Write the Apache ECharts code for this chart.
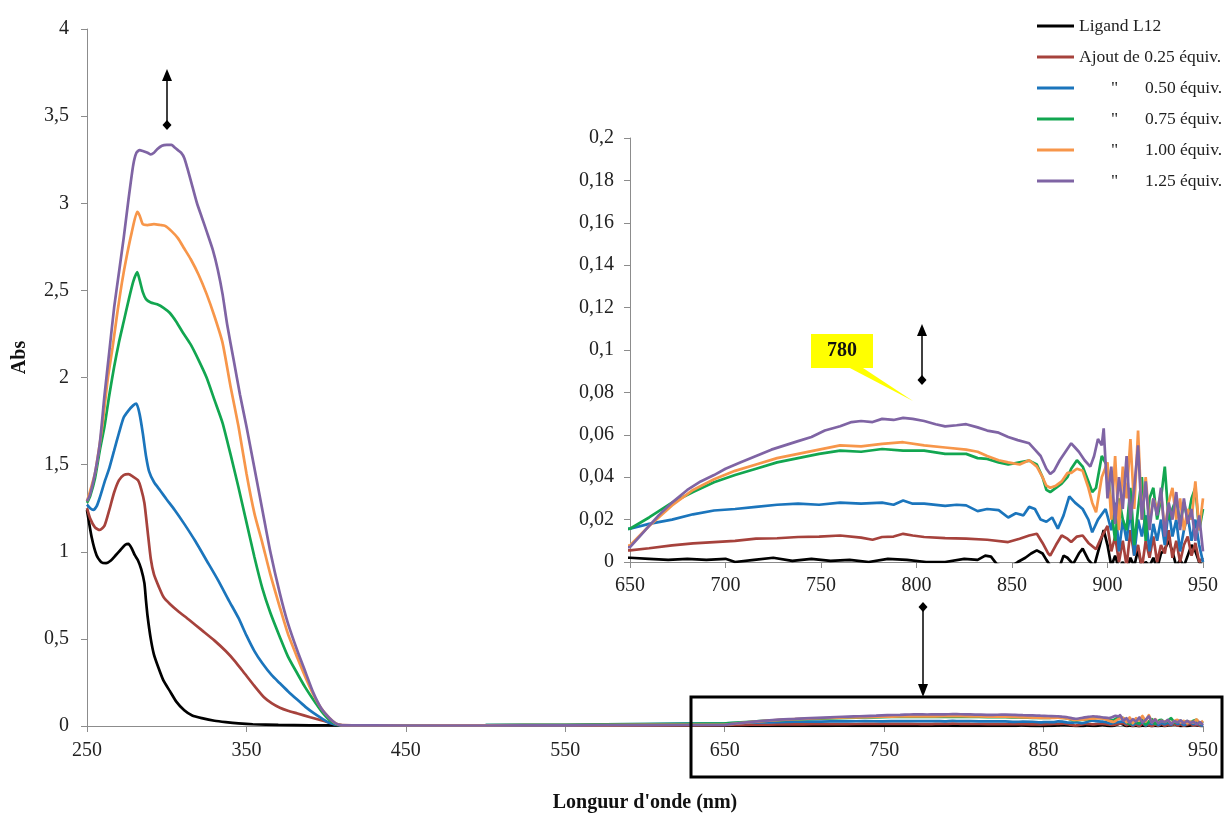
<!DOCTYPE html>
<html>
<head>
<meta charset="utf-8">
<script src="https://cdn.jsdelivr.net/npm/echarts@6/dist/echarts.min.js"></script>
<style>
html,body{margin:0;padding:0;background:#fff;}
#c{width:1225px;height:814px;}
</style>
</head>
<body>
<div id="c"></div>
<script>
// ---------------- DATA ----------------
const seriesNames = ['Ligand L12', 'Ajout de 0.25 équiv.', '0.50 équiv.', '0.75 équiv.', '1.00 équiv.', '1.25 équiv.'];
const seriesColors = ['#000000', '#A6423C', '#1B75BC', '#12A650', '#F7964A', '#7F64A4'];

const mainXTicks = [250, 350, 450, 550, 650, 750, 850, 950];

// [wavelength nm, absorbance]
const ligand = [[250,1.24],[253,1.08],[256,0.98],[259,0.94],[262,0.935],[265,0.95],[268,0.98],[271,1.01],[274,1.04],[276,1.045],[278,1.02],[280,0.98],[282,0.95],[284,0.9],[286,0.82],[287,0.72],[288,0.63],[290,0.5],[292,0.41],[295,0.33],[298,0.26],[302,0.2],[306,0.14],[311,0.09],[316,0.06],[322,0.045],[330,0.03],[337,0.022],[345,0.015],[354,0.01],[370,0.006],[390,0.004],[420,0.003],[500,0.002],[600,0.002],
[650,0.002],[660,0.0015],[670,0.001],[680,0.0015],[690,0.001],[700,0.0015],[705,0.0],[715,0.001],[725,0.002],[735,0.0005],[745,0.0015],[755,0.0005],[765,0.001],[775,0.0],[785,0.0015],[795,0.001],[805,0.0],[815,0.0],[825,0.0015],[832,0.001],[836,0.003],[839,0.0025],[842,-0.001],[848,-0.003],[853,0.0],[857,0.002],[860,0.004],[863,0.0055],[866,0.004],[868,0.001],[871,-0.003],[875,-0.002],[877,0.003],[879,0.002],[882,-0.001],[885,0.004],[887,0.0063],[890,0.001],[893,-0.002],[896,0.008],[898,0.015],
[900,0.008],[902,-0.002],[904,0.003],[906,-0.003],[908,0.0],[910,-0.004],[912,0.002],[914,-0.002],[916,0.006],[918,-0.003],[920,0.0],[922,-0.002],[924,0.002],[926,-0.003],[928,0.004],[930,0.006],[932,0.01],[934,0.005],[936,-0.002],[938,0.001],[940,-0.002],[942,0.003],[944,0.008],[946,0.005],[948,0.0],[950,-0.002]];

const equiv025 = [[250,1.25],[252,1.19],[255,1.14],[258,1.125],[261,1.15],[264,1.24],[267,1.34],[270,1.41],[273,1.44],[276,1.445],[279,1.43],[282,1.41],[284,1.36],[286,1.28],[288,1.12],[290,0.96],[292,0.87],[295,0.8],[298,0.74],[302,0.7],[307,0.66],[314,0.61],[322,0.55],[330,0.49],[337,0.43],[343,0.37],[349,0.3],[355,0.23],[361,0.165],[366,0.13],[371,0.105],[376,0.088],[382,0.072],[390,0.05],[398,0.03],[405,0.012],[410,0.005],[450,0.003],[500,0.003],[550,0.003],[600,0.004],
[650,0.0055],[660,0.0065],[672,0.0078],[683,0.0088],[694,0.0094],[705,0.010],[716,0.011],[727,0.0112],[738,0.0118],[749,0.012],[760,0.0125],[771,0.0115],[777,0.0105],[782,0.0118],[788,0.012],[793,0.0133],[798,0.0125],[804,0.0118],[815,0.0113],[826,0.011],[837,0.0105],[848,0.0094],[854,0.011],[859,0.0125],[863,0.0133],[866,0.009],[869,0.004],[870,0.003],[873,0.008],[876,0.0125],[879,0.011],[881,0.0094],[884,0.012],[887,0.0125],[890,0.009],[894,0.006],[897,0.012],
[900,0.017],[902,0.005],[904,0.012],[906,0.0],[908,0.01],[910,-0.002],[912,0.015],[914,0.003],[916,0.008],[918,-0.003],[920,0.01],[922,0.002],[924,0.012],[926,0.0],[928,0.008],[930,0.004],[932,0.015],[934,0.002],[936,0.01],[938,0.0],[940,0.008],[942,0.012],[944,0.003],[946,0.009],[948,0.0],[950,0.002]];

const equiv050 = [[250,1.27],[252,1.25],[254,1.24],[256,1.26],[258,1.31],[261,1.4],[264,1.48],[267,1.58],[270,1.68],[273,1.77],[276,1.81],[279,1.84],[281,1.85],[283,1.79],[285,1.68],[287,1.55],[289,1.46],[292,1.4],[296,1.35],[300,1.3],[305,1.24],[311,1.16],[318,1.06],[325,0.95],[332,0.84],[339,0.72],[345,0.62],[350,0.52],[355,0.43],[360,0.36],[366,0.29],[371,0.245],[376,0.2],[382,0.15],[387,0.11],[392,0.075],[397,0.045],[402,0.018],[408,0.005],[450,0.004],[500,0.005],[550,0.007],[600,0.011],
[650,0.0157],[660,0.018],[672,0.020],[683,0.0225],[694,0.0243],[705,0.025],[716,0.026],[727,0.027],[738,0.0275],[749,0.027],[760,0.028],[771,0.0275],[782,0.028],[788,0.027],[793,0.029],[798,0.0275],[804,0.0275],[815,0.0265],[821,0.027],[826,0.0267],[832,0.024],[837,0.025],[843,0.0245],[848,0.021],[852,0.023],[856,0.022],[859,0.026],[862,0.025],[865,0.02],[868,0.019],[871,0.021],[874,0.0157],[877,0.022],[880,0.031],[883,0.028],[887,0.025],[890,0.02],[892,0.014],[895,0.02],[899,0.025],
[900,0.025],[902,0.015],[904,0.028],[906,0.005],[908,0.02],[910,0.01],[912,0.025],[914,0.003],[916,0.02],[918,0.012],[920,0.022],[922,0.005],[924,0.018],[926,0.01],[928,0.02],[930,0.008],[932,0.025],[934,0.012],[936,0.02],[938,0.005],[940,0.015],[942,0.022],[944,0.01],[946,0.02],[948,0.008],[950,0.0]];

const equiv075 = [[250,1.28],[252,1.32],[255,1.42],[258,1.58],[261,1.72],[264,1.9],[267,2.06],[270,2.2],[273,2.32],[276,2.44],[279,2.55],[281.5,2.605],[283,2.56],[285,2.49],[287,2.45],[290,2.43],[294,2.42],[298,2.4],[302,2.37],[306,2.32],[310,2.26],[315,2.19],[320,2.1],[325,2.0],[330,1.87],[335,1.74],[340,1.56],[345,1.37],[350,1.17],[355,0.97],[360,0.79],[365,0.65],[371,0.51],[376,0.4],[382,0.3],[387,0.22],[392,0.15],[397,0.085],[402,0.034],[406,0.012],[410,0.004],[450,0.004],[500,0.005],[550,0.007],[600,0.011],
[650,0.0157],[660,0.021],[672,0.028],[683,0.033],[694,0.0376],[705,0.041],[716,0.044],[727,0.047],[738,0.049],[749,0.051],[760,0.0525],[771,0.052],[782,0.0533],[793,0.0525],[804,0.0525],[815,0.051],[826,0.051],[832,0.049],[837,0.0486],[843,0.047],[848,0.046],[854,0.047],[859,0.0478],[863,0.046],[866,0.04],[868,0.034],[870,0.033],[873,0.035],[876,0.037],[879,0.04],[881,0.044],[884,0.048],[887,0.045],[890,0.038],[892,0.033],[894,0.035],[897,0.05],
[900,0.045],[902,0.025],[904,0.01],[906,0.03],[908,0.02],[910,0.015],[912,0.035],[914,0.008],[916,0.025],[918,0.04],[920,0.01],[922,0.03],[924,0.035],[926,0.02],[928,0.03],[930,0.045],[932,0.02],[934,0.025],[936,0.03],[938,0.018],[940,0.028],[942,0.02],[944,0.03],[946,0.035],[948,0.015],[950,0.025]];

const equiv100 = [[250,1.29],[252,1.35],[255,1.45],[258,1.62],[260,1.75],[263,1.99],[266,2.17],[269,2.37],[272,2.55],[275,2.7],[278,2.83],[281.5,2.95],[283,2.93],[285,2.88],[288,2.875],[292,2.88],[296,2.875],[299,2.87],[303,2.84],[307,2.8],[311,2.74],[315,2.68],[320,2.59],[325,2.48],[330,2.35],[335,2.2],[340,1.95],[345,1.72],[350,1.45],[355,1.22],[360,1.05],[365,0.87],[371,0.68],[376,0.53],[382,0.39],[387,0.28],[392,0.18],[397,0.1],[402,0.046],[406,0.015],[410,0.004],[450,0.003],[500,0.004],[550,0.005],[600,0.006],
[650,0.0078],[660,0.017],[672,0.0267],[683,0.034],[694,0.039],[705,0.043],[716,0.046],[727,0.049],[738,0.051],[749,0.053],[760,0.055],[771,0.0545],[782,0.0557],[793,0.0565],[804,0.055],[815,0.054],[826,0.053],[832,0.052],[837,0.05],[843,0.048],[848,0.047],[854,0.046],[859,0.048],[863,0.045],[866,0.04],[868,0.036],[870,0.035],[873,0.036],[876,0.038],[879,0.042],[881,0.042],[884,0.044],[887,0.043],[890,0.035],[892,0.028],[894,0.0235],[897,0.04],
[900,0.047],[902,0.02],[904,0.05],[906,0.015],[908,0.045],[910,0.03],[912,0.058],[914,0.025],[916,0.062],[918,0.02],[920,0.04],[922,0.018],[924,0.03],[926,0.025],[928,0.032],[930,0.015],[932,0.028],[934,0.035],[936,0.02],[938,0.03],[940,0.015],[942,0.025],[944,0.02],[946,0.038],[948,0.015],[950,0.03]];

const equiv125 = [[250,1.29],[252,1.33],[255,1.45],[258,1.62],[261,1.9],[264,2.15],[267,2.4],[270,2.6],[273,2.8],[276,3.02],[279,3.22],[281,3.29],[283,3.305],[285,3.3],[288,3.29],[290,3.28],[292,3.29],[294,3.31],[297,3.33],[300,3.335],[303,3.335],[305,3.32],[307,3.305],[309,3.29],[311,3.26],[313,3.2],[316,3.1],[319,3.0],[322,2.92],[325,2.84],[329,2.73],[332,2.62],[335,2.48],[338,2.3],[342,2.1],[346,1.9],[350,1.72],[355,1.48],[360,1.24],[365,1.0],[371,0.76],[376,0.59],[382,0.43],[387,0.31],[392,0.19],[397,0.1],[402,0.046],[406,0.015],[410,0.004],[450,0.003],[500,0.003],[550,0.004],[600,0.005],
[650,0.007],[655,0.012],[660,0.017],[665,0.022],[672,0.028],[680,0.034],[687,0.038],[694,0.041],[700,0.044],[708,0.047],[716,0.05],[724,0.053],[731,0.055],[738,0.057],[745,0.059],[752,0.062],[760,0.064],[766,0.066],[771,0.0665],[777,0.066],[782,0.0675],[788,0.067],[793,0.068],[798,0.0675],[804,0.0665],[810,0.065],[815,0.064],[821,0.0645],[826,0.065],[832,0.0635],[837,0.062],[843,0.061],[848,0.059],[853,0.0575],[859,0.056],[862,0.053],[865,0.05],[868,0.044],[870,0.0415],[872,0.043],[875,0.048],[878,0.052],[881,0.056],[883,0.054],[885,0.052],[888,0.048],[891,0.045],[893,0.05],[895,0.058],[897,0.055],[898,0.063],
[900,0.03],[902,0.045],[904,0.018],[906,0.04],[908,0.025],[910,0.05],[912,0.02],[914,0.035],[916,0.055],[918,0.02],[920,0.038],[922,0.015],[924,0.03],[926,0.022],[928,0.035],[930,0.012],[932,0.028],[934,0.02],[936,0.033],[938,0.015],[940,0.03],[942,0.018],[944,0.025],[946,0.01],[948,0.022],[950,0.005]];

const allData = [ligand, equiv025, equiv050, equiv075, equiv100, equiv125];

// ---------------- CHART ----------------
const FONT = '"Liberation Serif", "Times New Roman", serif';
const AXIS_GREY = '#8c8c8c';
const commaFmt = v => String(v).replace('.', ',');

const chart = echarts.init(document.getElementById('c'), null, {renderer: 'canvas'});

const series = [];
allData.forEach((d, i) => {
  series.push({
    name: seriesNames[i], type: 'line', data: d, xAxisIndex: 0, yAxisIndex: 0,
    showSymbol: false, symbol: 'none', smooth: 0.2, lineStyle: {width: 2.7, color: seriesColors[i]},
    itemStyle: {color: seriesColors[i]}, z: 2 + i, animation: false, clip: true
  });
});
allData.forEach((d, i) => {
  series.push({
    name: seriesNames[i], type: 'line', data: d, xAxisIndex: 1, yAxisIndex: 1,
    showSymbol: false, symbol: 'none', lineStyle: {width: 2.7, color: seriesColors[i]},
    itemStyle: {color: seriesColors[i]}, z: 10 + i, animation: false, clip: true
  });
});

const legendText = {};
seriesNames.forEach((n, i) => {
  legendText[n] = i < 2 ? n : '{s|}{q|"}' + n;
});

const option = {
  backgroundColor: '#ffffff',
  animation: false,
  textStyle: {fontFamily: FONT},
  grid: [
    {left: 87, top: 29, right: 22, bottom: 88, containLabel: false, outerBoundsMode: 'none'},
    {left: 630, top: 138, right: 22, bottom: 252, containLabel: false, outerBoundsMode: 'none'}
  ],
  xAxis: [
    {
      type: 'value', gridIndex: 0, min: 250, max: 950,
      name: "Longuur d'onde (nm)", nameLocation: 'middle', nameGap: 67,
      nameTextStyle: {fontFamily: FONT, fontWeight: 'bold', fontSize: 20, color: '#111'},
      axisLine: {lineStyle: {color: AXIS_GREY, width: 1}},
      axisTick: {show: true, inside: false, length: 6, lineStyle: {color: AXIS_GREY}, customValues: mainXTicks},
      axisLabel: {customValues: mainXTicks, fontFamily: FONT, fontSize: 20, color: '#222', margin: 15},
      splitLine: {show: false}
    },
    {
      type: 'value', gridIndex: 1, min: 650, max: 950, interval: 50,
      axisLine: {lineStyle: {color: AXIS_GREY, width: 1}},
      axisTick: {show: true, length: 6, lineStyle: {color: AXIS_GREY}},
      axisLabel: {fontFamily: FONT, fontSize: 20, color: '#222', margin: 14},
      splitLine: {show: false}
    }
  ],
  yAxis: [
    {
      type: 'value', gridIndex: 0, min: 0, max: 4, interval: 0.5,
      name: 'Abs', nameLocation: 'middle', nameGap: 57,
      nameTextStyle: {fontFamily: FONT, fontWeight: 'bold', fontSize: 20, color: '#111', padding: [0, 0, 0, 40]},
      axisLine: {show: true, lineStyle: {color: AXIS_GREY, width: 1}},
      axisTick: {show: true, length: 6, lineStyle: {color: AXIS_GREY}},
      axisLabel: {formatter: commaFmt, fontFamily: FONT, fontSize: 20, color: '#222', margin: 18},
      splitLine: {show: false}
    },
    {
      type: 'value', gridIndex: 1, min: 0, max: 0.2, interval: 0.02,
      axisLine: {show: true, lineStyle: {color: AXIS_GREY, width: 1}},
      axisTick: {show: true, length: 6, lineStyle: {color: AXIS_GREY}},
      axisLabel: {formatter: commaFmt, fontFamily: FONT, fontSize: 20, color: '#222', margin: 16},
      splitLine: {show: false}
    }
  ],
  legend: {
    show: true, orient: 'vertical', left: 1032, top: 11,
    itemWidth: 37, itemHeight: 3, itemGap: 11, icon: 'rect',
    data: seriesNames,
    formatter: n => legendText[n],
    textStyle: {
      fontFamily: FONT, fontSize: 17.5, color: '#222', lineHeight: 20,
      rich: {
        s: {width: 32, fontFamily: FONT, fontSize: 17.5},
        q: {width: 34, fontFamily: FONT, fontSize: 17.5, color: '#222'}
      }
    }
  },
  graphic: [
    // main up arrow
    {type: 'line', shape: {x1: 167, y1: 78, x2: 167, y2: 124}, style: {stroke: '#000', lineWidth: 1.5}, z: 50},
    {type: 'polygon', shape: {points: [[167, 69], [162, 81], [172, 81]]}, style: {fill: '#000'}, z: 50},
    {type: 'polygon', shape: {points: [[167, 120], [171.5, 125], [167, 130], [162.5, 125]]}, style: {fill: '#000'}, z: 50},
    // inset up arrow
    {type: 'line', shape: {x1: 922, y1: 333, x2: 922, y2: 379}, style: {stroke: '#000', lineWidth: 1.5}, z: 50},
    {type: 'polygon', shape: {points: [[922, 324], [917, 336], [927, 336]]}, style: {fill: '#000'}, z: 50},
    {type: 'polygon', shape: {points: [[922, 375], [926.5, 380], [922, 385], [917.5, 380]]}, style: {fill: '#000'}, z: 50},
    // down arrow to box
    {type: 'line', shape: {x1: 923, y1: 607, x2: 923, y2: 688}, style: {stroke: '#000', lineWidth: 1.5}, z: 50},
    {type: 'polygon', shape: {points: [[923, 602], [927.5, 607], [923, 612], [918.5, 607]]}, style: {fill: '#000'}, z: 50},
    {type: 'polygon', shape: {points: [[923, 697], [918, 684], [928, 684]]}, style: {fill: '#000'}, z: 50},
    // box
    {type: 'rect', shape: {x: 691, y: 697, width: 531, height: 80}, style: {fill: 'none', stroke: '#000', lineWidth: 3}, z: 50},
    // callout
    {type: 'polygon', shape: {points: [[846, 366], [860, 366], [913, 401]]}, style: {fill: '#FFFF00'}, z: 50},
    {type: 'rect', shape: {x: 811, y: 334, width: 62, height: 34}, style: {fill: '#FFFF00'}, z: 50},
    {type: 'text', x: 842, y: 351, style: {text: '780', font: 'bold 20px ' + FONT, fill: '#111', align: 'center', verticalAlign: 'middle'}, z: 51}
  ],
  series: series
};

chart.setOption(option);
</script>
</body>
</html>
